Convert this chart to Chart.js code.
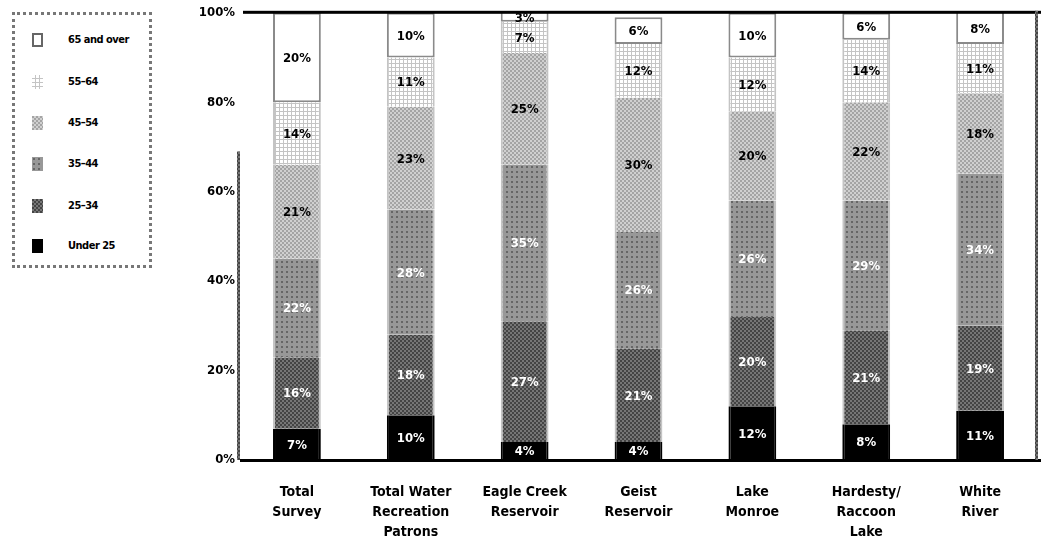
<!DOCTYPE html>
<html>
<head>
<meta charset="utf-8">
<script src="https://cdn.jsdelivr.net/npm/chart.js@4"></script>
<style>
  html, body { margin: 0; padding: 0; background: #fff; }
  #wrap { position: relative; width: 1041px; height: 539px; }
  #legend {
    position: absolute; left: 12px; top: 12px; width: 134px; height: 250px;
    border: 3px dotted #777; background: #fff;
    font-family: 'Liberation Sans Narrow', 'DejaVu Sans Condensed', sans-serif;
    font-weight: bold; font-size: 11px; color: #000;
  }
  .item { position: absolute; left: 17px; height: 14px; line-height: 14px; }
  .item canvas { position: absolute; left: 0; top: 0; }
  .item span { position: absolute; left: 36px; top: 0; white-space: nowrap; letter-spacing: -0.5px; }
</style>
</head>
<body>
<div id="wrap">
  <canvas id="chart" width="1041" height="539"></canvas>
  <div id="legend"></div>
</div>
<script>
const categories = [
  ['Total', 'Survey'],
  ['Total Water', 'Recreation', 'Patrons'],
  ['Eagle Creek', 'Reservoir'],
  ['Geist', 'Reservoir'],
  ['Lake', 'Monroe'],
  ['Hardesty/', 'Raccoon', 'Lake'],
  ['White', 'River'],
];
const under25 = [7, 10, 4, 4, 12, 8, 11];
const age25to34 = [16, 18, 27, 21, 20, 21, 19];
const age35to44 = [22, 28, 35, 26, 26, 29, 34];
const age45to54 = [21, 23, 25, 30, 20, 22, 18];
const age55to64 = [14, 11, 7, 12, 12, 14, 11];
const age65over = [20, 10, 3, 6, 10, 6, 8];
const yTickValues = [0, 20, 40, 60, 80, 100];

const FONT = "'Liberation Sans Narrow', 'DejaVu Sans Condensed', sans-serif";

function makeTile(size, draw) {
  const c = document.createElement('canvas');
  c.width = size;
  c.height = size;
  draw(c.getContext('2d'));
  return c;
}

const tiles = {
  black: makeTile(4, (g) => { g.fillStyle = '#000'; g.fillRect(0, 0, 4, 4); }),
  dark: makeTile(4, (g) => {
    g.fillStyle = '#767676'; g.fillRect(0, 0, 4, 4);
    g.fillStyle = '#444';
    g.fillRect(0, 0, 2, 2); g.fillRect(2, 2, 2, 2);
  }),
  dots: makeTile(5, (g) => {
    g.fillStyle = '#989898'; g.fillRect(0, 0, 5, 5);
    g.fillStyle = '#666'; g.fillRect(1, 1, 2, 2);
  }),
  light: makeTile(4, (g) => {
    g.fillStyle = '#d0d0d0'; g.fillRect(0, 0, 4, 4);
    g.fillStyle = '#a4a4a4';
    g.fillRect(0, 0, 2, 2); g.fillRect(2, 2, 2, 2);
  }),
  grid: makeTile(4, (g) => {
    g.fillStyle = '#c4c4c4'; g.fillRect(0, 0, 4, 4);
    g.fillStyle = '#fff'; g.fillRect(0, 0, 3, 3);
  }),
  white: makeTile(4, (g) => { g.fillStyle = '#fff'; g.fillRect(0, 0, 4, 4); }),
};

const ctx = document.getElementById('chart').getContext('2d');
const pat = (t) => ctx.createPattern(t, 'repeat');

const series = [
  { label: 'Under 25', data: under25, tile: 'black', text: '#fff', border: '#000' },
  { label: '25\u201334', data: age25to34, tile: 'dark', text: '#fff', border: '#c4c4c4' },
  { label: '35\u201344', data: age35to44, tile: 'dots', text: '#fff', border: '#c4c4c4' },
  { label: '45\u201354', data: age45to54, tile: 'light', text: '#000', border: '#c4c4c4' },
  { label: '55\u201364', data: age55to64, tile: 'grid', text: '#000', border: '#c4c4c4' },
  { label: '65 and over', data: age65over, tile: 'white', text: '#000', border: '#8a8a8a' },
];

const datasets = series.map((s) => ({
  label: s.label,
  data: s.data,
  backgroundColor: pat(tiles[s.tile]),
  borderColor: s.border,
  borderWidth: s.tile === 'white' ? 2 : { left: 2, right: 2, top: 0, bottom: 0 },
  borderSkipped: false,
  categoryPercentage: 1,
  barPercentage: 0.42,
  textColor: s.text,
}));

const segmentLabels = {
  id: 'segmentLabels',
  afterDatasetsDraw(chart) {
    const c = chart.ctx;
    c.save();
    c.font = `bold 13px ${FONT}`;
    c.textAlign = 'center';
    c.textBaseline = 'middle';
    chart.data.datasets.forEach((ds, i) => {
      const meta = chart.getDatasetMeta(i);
      meta.data.forEach((bar, j) => {
        const top = Math.max(bar.y, chart.chartArea.top);
        c.fillStyle = ds.textColor;
        c.fillText(`${ds.data[j]}%`, bar.x, (top + bar.base) / 2 + 1);
      });
    });
    c.restore();
  },
};

const frame = {
  id: 'frame',
  afterDraw(chart) {
    const c = chart.ctx;
    const a = chart.chartArea;
    const w = chart.width;
    c.save();
    c.fillStyle = '#000';
    c.fillRect(a.left + 3, a.top - 2, w - a.left, 3);
    c.fillRect(a.left, a.bottom - 1, w - a.left, 3);
    c.fillStyle = pat(tiles.dark);
    c.fillRect(a.right - 2, a.top - 2, 3, a.bottom - a.top + 2);
    const y70 = chart.scales.y.getPixelForValue(69);
    c.fillRect(a.left - 3, y70, 3, a.bottom - y70);
    c.restore();
  },
};

new Chart(ctx, {
  type: 'bar',
  data: { labels: categories, datasets },
  options: {
    responsive: false,
    animation: false,
    layout: { padding: { top: 11, right: 4, left: 0, bottom: 0 } },
    plugins: {
      legend: { display: false },
      tooltip: { enabled: false },
    },
    scales: {
      x: {
        stacked: true,
        grid: { display: false, drawTicks: false },
        border: { display: false },
        ticks: {
          color: '#000',
          padding: 22,
          maxRotation: 0,
          font: { family: FONT, weight: 'bold', size: 14, lineHeight: 1.45 },
        },
        afterFit: (s) => { s.height = 79; },
      },
      y: {
        stacked: true,
        min: 0,
        max: 100,
        afterBuildTicks: (s) => { s.ticks = yTickValues.map((v) => ({ value: v })); },
        grid: { display: false, drawTicks: false },
        border: { display: false },
        ticks: {
          color: '#000',
          padding: 5,
          font: { family: FONT, weight: 'bold', size: 13 },
          callback: (v) => `${v}%`,
        },
        afterFit: (s) => { s.width = 240; },
      },
    },
  },
  plugins: [segmentLabels, frame],
});

// legend, top row = oldest group
const legend = document.getElementById('legend');
const rowTops = [18, 60, 101, 142, 184, 224];
series.slice().reverse().forEach((s, i) => {
  const item = document.createElement('div');
  item.className = 'item';
  item.style.top = `${rowTops[i]}px`;
  const sw = document.createElement('canvas');
  sw.width = 11;
  sw.height = 14;
  const g = sw.getContext('2d');
  g.fillStyle = g.createPattern(tiles[s.tile], 'repeat');
  g.fillRect(0, 0, 11, 14);
  if (s.tile === 'white') {
    g.strokeStyle = '#666';
    g.lineWidth = 2;
    g.strokeRect(1, 1, 9, 12);
  }
  const txt = document.createElement('span');
  txt.textContent = s.label;
  item.appendChild(sw);
  item.appendChild(txt);
  legend.appendChild(item);
});
</script>
</body>
</html>
